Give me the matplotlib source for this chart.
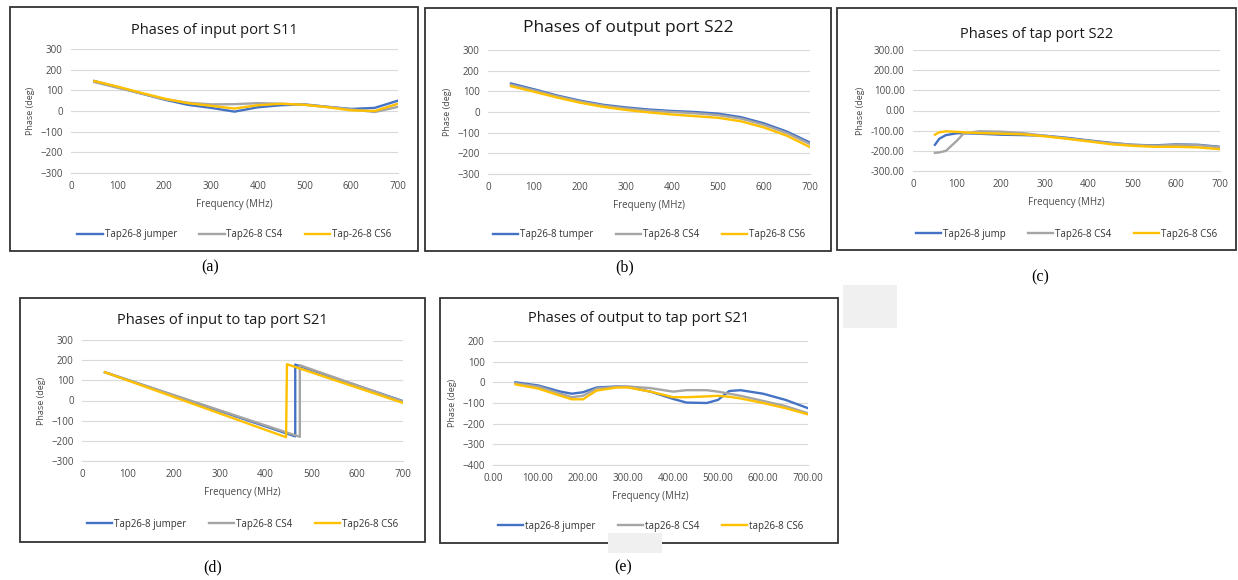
import matplotlib
matplotlib.use("Agg")
import matplotlib.pyplot as plt
from matplotlib.patches import Rectangle
from matplotlib.ticker import FormatStrFormatter

W, H = 1238, 580
BLUE, GREY, YELLOW = "#4472C4", "#A5A5A5", "#FFC000"
plt.rcParams["font.family"] = ["Open Sans", "DejaVu Sans"]

# (a) input port S11
freq_a = [50, 100, 150, 200, 250, 300, 350, 400, 450, 500, 550, 600, 650, 700]
s11_jumper = [145, 115, 85, 55, 30, 15, -3, 18, 28, 32, 20, 10, 15, 50]
s11_cs4 = [140, 112, 85, 57, 40, 32, 33, 38, 35, 30, 20, 8, -5, 20]
s11_cs6 = [145, 118, 88, 60, 38, 25, 12, 28, 35, 30, 18, 3, 0, 35]

# (b) output port S22
freq_b = [50, 100, 150, 200, 250, 300, 350, 400, 450, 500, 550, 600, 650, 700]
s22o_jumper = [138, 110, 80, 55, 35, 22, 12, 5, 0, -8, -25, -55, -95, -148]
s22o_cs4 = [132, 105, 76, 51, 31, 17, 7, 0, -6, -15, -32, -62, -102, -155]
s22o_cs6 = [125, 98, 70, 45, 25, 10, -2, -12, -20, -28, -45, -75, -115, -170]

# (c) tap port S22
freq_c = [50, 60, 75, 100, 115, 150, 200, 250, 300, 350, 400, 450, 500, 550, 600, 650, 700]
s22t_jumper = [-170, -140, -122, -113, -113, -115, -120, -122, -125, -135, -148, -160, -170, -173, -168, -170, -180]
s22t_cs4 = [-210, -208, -200, -150, -115, -103, -105, -112, -125, -138, -150, -162, -170, -175, -170, -172, -182]
s22t_cs6 = [-120, -108, -103, -106, -108, -112, -115, -118, -128, -140, -153, -167, -175, -180, -180, -183, -192]

# (d) input to tap S21 (phase wraps)
freq_d_jumper = [50, 465, 465, 700]
s21i_jumper = [140, -178, 178, -3]
freq_d_cs4 = [50, 475, 475, 700]
s21i_cs4 = [140, -180, 175, -5]
freq_d_cs6 = [50, 445, 447, 700]
s21i_cs6 = [140, -182, 180, -12]

# (e) output to tap S21
freq_e = [50, 100, 150, 175, 200, 230, 275, 300, 350, 400, 430, 475, 500, 525, 550, 600, 650, 700]
s21o_jumper = [0, -15, -45, -55, -48, -25, -20, -22, -45, -80, -98, -100, -85, -42, -38, -55, -85, -125]
s21o_cs4 = [-5, -20, -55, -72, -65, -30, -22, -20, -28, -45, -38, -38, -45, -55, -65, -90, -115, -150]
s21o_cs6 = [-10, -30, -65, -82, -82, -40, -25, -25, -45, -72, -72, -68, -65, -70, -78, -100, -125, -155]

fig = plt.figure(figsize=(W / 100, H / 100), dpi=100)


def frac(x0, y0, x1, y1):
    return [x0 / W, 1 - y1 / H, (x1 - x0) / W, (y1 - y0) / H]


def frame(x0, y0, x1, y1):
    fig.patches.append(Rectangle((x0 / W, 1 - y1 / H), (x1 - x0) / W, (y1 - y0) / H,
                                 transform=fig.transFigure, fill=False,
                                 edgecolor="#333333", linewidth=1.3))


def panel(box, plot, title, tsize, ty, xlabel, xly, legy, labels, series,
          ylim, yticks, yfmt=None, xfmt=None):
    frame(*box)
    ax = fig.add_axes(frac(*plot))
    for (x, y), c, lab in zip(series, [BLUE, GREY, YELLOW], labels):
        ax.plot(x, y, color=c, lw=1.7, label=lab, solid_joinstyle="round")
    ax.set_xlim(0, 700)
    ax.set_ylim(*ylim)
    ax.set_xticks(range(0, 701, 100))
    ax.set_yticks(yticks)
    if yfmt:
        ax.yaxis.set_major_formatter(FormatStrFormatter(yfmt))
    if xfmt:
        ax.xaxis.set_major_formatter(FormatStrFormatter(xfmt))
    ax.grid(axis="y", color="#D9D9D9", lw=0.8)
    ax.set_axisbelow(True)
    for s in ["top", "right", "left"]:
        ax.spines[s].set_visible(False)
    ax.spines["bottom"].set_color("#D9D9D9")
    ax.tick_params(length=0, labelsize=7, colors="#4a4a4a", pad=6)
    ax.set_ylabel("Phase (deg)", fontsize=6.5, color="#4a4a4a", labelpad=4)
    cx = (box[0] + box[2]) / 2
    fig.text(cx / W, 1 - ty / H, title, ha="center", va="center", fontsize=tsize,
             color="#1a1a1a")
    fig.text(((plot[0] + plot[2]) / 2) / W, 1 - xly / H, xlabel, ha="center", va="center",
             fontsize=7, color="#4a4a4a")
    fig.legend(*ax.get_legend_handles_labels(), loc="center",
               bbox_to_anchor=(((plot[0] + plot[2]) / 2) / W, 1 - legy / H),
               ncol=3, frameon=False, fontsize=7, handlelength=2.6, columnspacing=2.3,
               handletextpad=0.2, labelcolor="#333333")
    return ax


panel((10, 7, 418, 251), (71, 49, 398, 173), "Phases of input port S11", 10.5, 30,
      "Frequency (MHz)", 204, 235,
      ["Tap26-8 jumper", "Tap26-8 CS4", "Tap-26-8 CS6"],
      [(freq_a, s11_jumper), (freq_a, s11_cs4), (freq_a, s11_cs6)],
      (-300, 300), range(-300, 301, 100))

panel((425, 8, 831, 251), (488, 50, 810, 174), "Phases of output port S22", 12.5, 28,
      "Frequeny (MHz)", 206, 235,
      ["Tap26-8 tumper", "Tap26-8 CS4", "Tap26-8 CS6"],
      [(freq_b, s22o_jumper), (freq_b, s22o_cs4), (freq_b, s22o_cs6)],
      (-300, 300), range(-300, 301, 100))

panel((837, 8, 1236, 250), (913, 50, 1220, 171), "Phases of tap port S22", 10.5, 34,
      "Frequency (MHz)", 203, 234,
      ["Tap26-8 jump", "Tap26-8 CS4", "Tap26-8 CS6"],
      [(freq_c, s22t_jumper), (freq_c, s22t_cs4), (freq_c, s22t_cs6)],
      (-300, 300), range(-300, 301, 100), yfmt="%.2f")

panel((20, 298, 425, 542), (82, 340, 403, 461), "Phases of input to tap port S21", 10.5, 320,
      "Frequency (MHz)", 493, 524,
      ["Tap26-8 jumper", "Tap26-8 CS4", "Tap26-8 CS6"],
      [(freq_d_jumper, s21i_jumper), (freq_d_cs4, s21i_cs4), (freq_d_cs6, s21i_cs6)],
      (-300, 300), range(-300, 301, 100))

panel((440, 298, 838, 543), (493, 341, 808, 465), "Phases of output to tap port S21", 10.5, 318,
      "Frequency (MHz)", 497, 526,
      ["tap26-8 jumper", "tap26-8 CS4", "tap26-8 CS6"],
      [(freq_e, s21o_jumper), (freq_e, s21o_cs4), (freq_e, s21o_cs6)],
      (-400, 200), range(-400, 201, 100), xfmt="%.2f")

# sub-figure captions
for lab, x, y in [("(a)", 210, 267), ("(b)", 625, 267), ("(c)", 1040, 277),
                  ("(d)", 213, 567), ("(e)", 623, 567)]:
    fig.text(x / W, 1 - y / H, lab, ha="center", va="center", fontsize=11.5,
             family="Liberation Serif")

# scanning artefacts
fig.patches.append(Rectangle((843 / W, 1 - 328 / H), 54 / W, 43 / H, transform=fig.transFigure,
                             facecolor="#F0F0F0", edgecolor="none"))
fig.patches.append(Rectangle((608 / W, 1 - 553 / H), 54 / W, 20 / H, transform=fig.transFigure,
                             facecolor="#F0F0F0", edgecolor="none"))

fig.savefig("out.png", dpi=100, facecolor="white")
